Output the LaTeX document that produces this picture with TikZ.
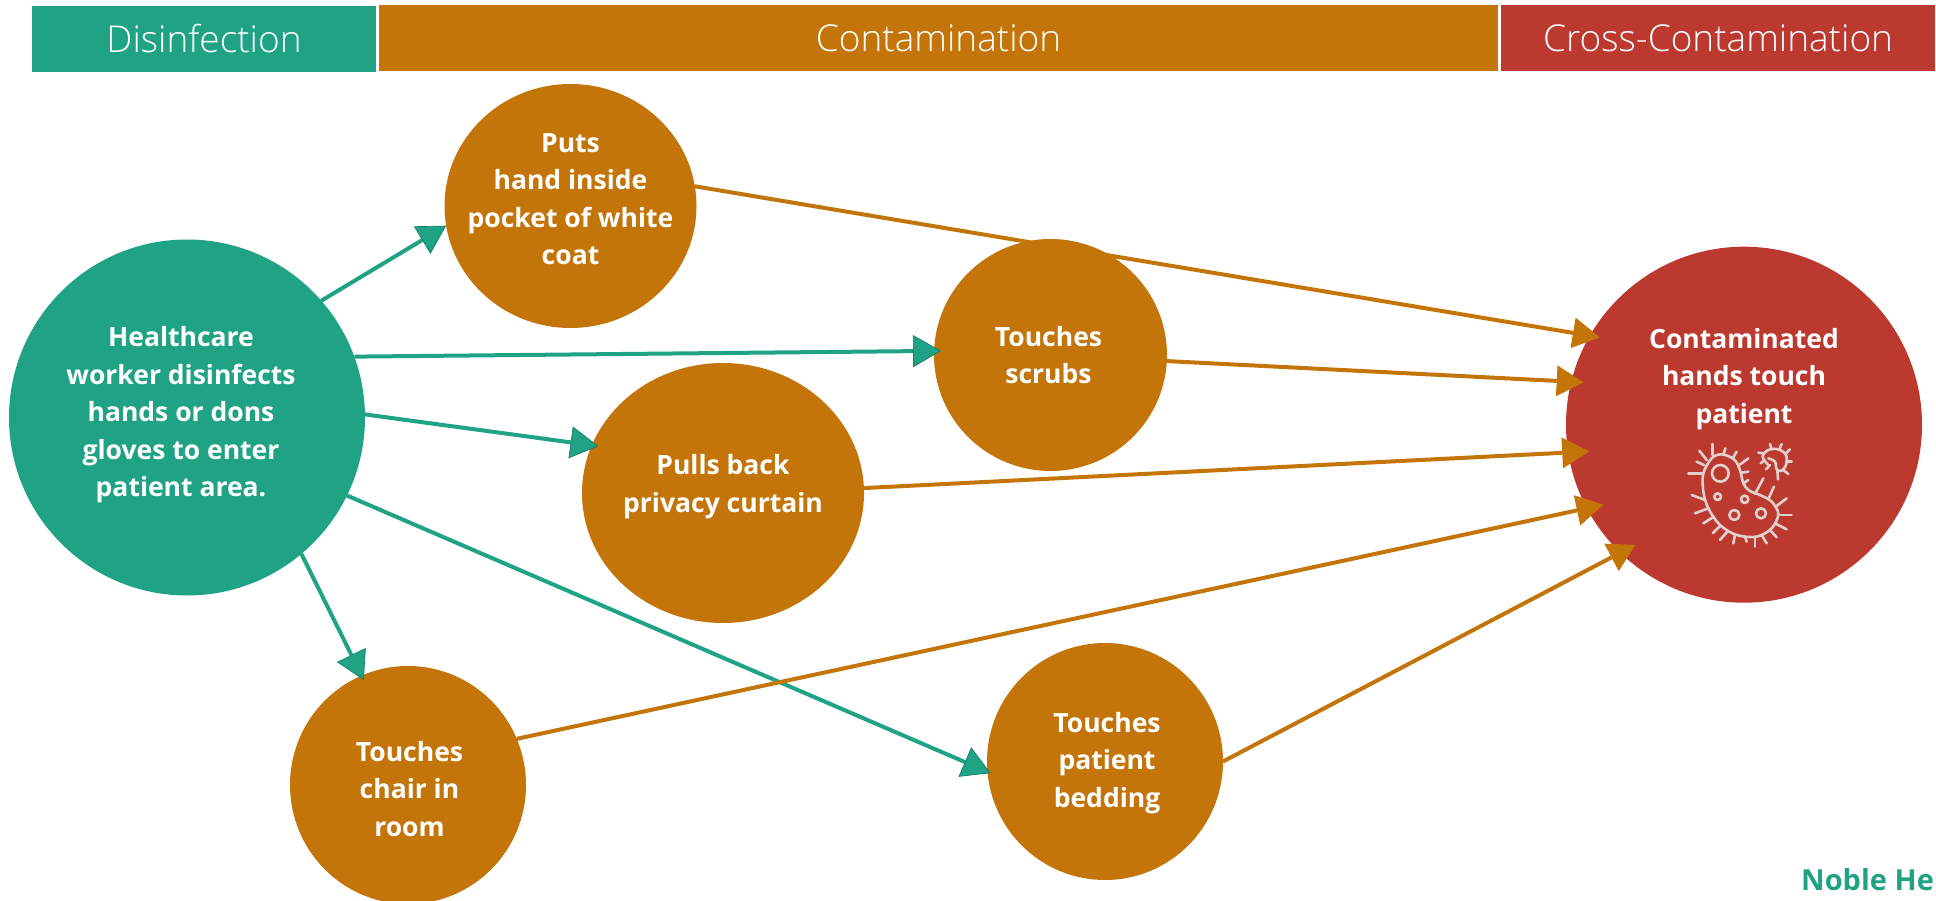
\documentclass[tikz,border=0pt]{standalone}
\usepackage{fontspec}
\setmainfont{Open Sans}
\newfontfamily\hdrfont{Open Sans Light}
\usetikzlibrary{shapes.geometric,arrows.meta}
\definecolor{tealc}{RGB}{32,163,133}
\definecolor{tealdk}{RGB}{22,125,105}
\definecolor{orangec}{RGB}{196,117,10}
\definecolor{redc}{RGB}{188,57,48}
\definecolor{iconc}{RGB}{226,208,204}
\tikzset{
  blob/.style={ellipse,inner sep=0pt,outer sep=0pt,draw=none,minimum width=#1},
  lab/.style={text=white,align=center,font=\fontsize{26.5}{37.5}\selectfont\bfseries,inner sep=0pt},
  hdr/.style={rectangle,inner sep=0pt,outer sep=0pt,text=white,font=\hdrfont\fontsize{37}{44}\selectfont},
  garr/.style={line width=4pt,draw=tealc,-{Triangle[length=28pt,width=32pt,fill=tealc,color=tealdk,line width=.7pt]}},
  oarr/.style={line width=4pt,draw=orangec,-{Triangle[length=27pt,width=31pt,fill=orangec,color=orangec,line width=0pt]}},
  iconline/.style={draw=iconc,line width=2.6pt,line cap=round,line join=round}
}
\begin{document}
\begin{tikzpicture}[x=1pt,y=-1pt]
\clip (0,0) rectangle (1936,901);
% headers
\node[hdr,fill=tealc,minimum width=344pt,minimum height=66pt] (h1) at (204,39) {Disinfection};
\node[hdr,fill=orangec,minimum width=1119pt,minimum height=66pt] (h2) at (938.5,38) {Contamination};
\node[hdr,fill=redc,minimum width=434pt,minimum height=66pt] (h3) at (1718,38) {Cross-Contamination};
% first circles
\node[blob=252pt,minimum height=244pt,fill=orangec,
  label={[lab,yshift=7pt]center:{Puts\\hand inside\\pocket of white\\coat}}] (pocket) at (570.5,206) {};
\node[blob=356pt,minimum height=356pt,fill=redc,
  label={[lab,yshift=45.7pt]center:{Contaminated\\hands touch\\patient}}] (patient) at (1744,424.7) {};
\draw[oarr,shorten >=-10pt] (pocket.9.7) -- (patient.150.4);
% remaining circles
\node[blob=356pt,minimum height=356pt,fill=tealc,
  label={[lab,xshift=-6pt,yshift=2.5pt]center:{Healthcare\\worker disinfects\\hands or dons\\gloves to enter\\patient area.}}] (worker) at (187,417.5) {};
\node[blob=233pt,minimum height=232pt,fill=orangec,
  label={[lab,xshift=-2pt]center:{Touches\\scrubs}}] (scrubs) at (1050.5,355) {};
\node[blob=282pt,minimum height=260pt,fill=orangec,
  label={[lab,yshift=6.5pt]center:{Pulls back\\privacy curtain}}] (curtain) at (723,493) {};
\node[blob=236pt,minimum height=238pt,fill=orangec,
  label={[lab,xshift=1.5pt,yshift=-4pt]center:{Touches\\chair in\\room}}] (chair) at (408,785) {};
\node[blob=236pt,minimum height=237pt,fill=orangec,
  label={[lab,xshift=2pt,yshift=-1.5pt]center:{Touches\\patient\\bedding}}] (bedding) at (1105,761.5) {};
% green connectors
\draw[garr] (worker.41.4) -- (pocket.189.4);
\draw[garr,shorten >=-7pt] (worker.20.1) -- (scrubs.178.4);
\draw[garr,shorten >=-6.6pt] (worker.1.4) -- (curtain.160);
\draw[garr,shorten >=-3.4pt] (worker.-26.7) -- (bedding.185.8);
\draw[garr,shorten >=-5pt] (worker.-50.8) -- (chair.113.9);
% orange connectors
\draw[oarr,shorten >=-12.4pt] (scrubs.-3.3) -- (patient.166.5);
\draw[oarr,shorten >=-21pt] (curtain.2.8) -- (patient.189.3);
\draw[oarr,shorten >=-17pt] (chair.23.3) -- (patient.208.6);
\draw[oarr,shorten >=-17pt] (bedding.-0.7) -- (patient.226);
% icon
\begin{scope}[shift={(1640,420)},x=0.3333pt,y=-0.3333pt]
\draw[iconline] plot[smooth cycle,tension=.55] coordinates {(215,115) (245,103) (282,118) (300,150) (310,190) (328,212) (362,226) (395,245) (415,282) (395,325) (350,350) (290,345) (240,315) (205,265) (190,215) (190,160)};
\draw[iconline] (241,160) circle[radius=25];
\draw[iconline] (233,230) circle[radius=10];
\draw[iconline] (314,238) circle[radius=11];
\draw[iconline] (283,285) circle[radius=15];
\draw[iconline] (363,280) circle[radius=15];
\foreach \a/\b/\c/\d in {218/105/218/72, 250/105/256/85, 278/115/290/95, 298/135/325/115, 305/158/325/155, 310/190/325/180, 345/222/370/175, 385/237/402/200, 410/258/440/235, 420/285/455/285, 405/310/440/328, 390/330/410/352, 365/345/380/370, 345/350/345/380, 315/350/320/365, 285/345/280/370, 262/335/240/360, 240/318/218/340, 222/290/190/310, 205/265/165/280, 195/240/155/225, 190/160/145/160, 192/135/170/125, 200/120/178/92}
  \draw[iconline] (\a,\b) -- (\c,\d);
\draw[iconline] plot[smooth,tension=.6] coordinates {(385,135) (368,110) (385,90) (415,88) (438,105) (438,135) (425,152) (410,148) (405,125) (385,115)};
\foreach \a/\b/\c/\d in {372/100/355/98, 395/88/390/72, 418/88/425/72, 438/100/450/88, 442/125/455/125, 430/150/445/162, 412/150/414/178, 390/135/378/148, 372/122/362/130}
  \draw[iconline] (\a,\b) -- (\c,\d);
\end{scope}
\node[anchor=base west,inner sep=0pt,text=tealc,font=\fontsize{29}{34}\selectfont\bfseries] (brand) at (1801,890) {Noble He};
\end{tikzpicture}
\end{document}
